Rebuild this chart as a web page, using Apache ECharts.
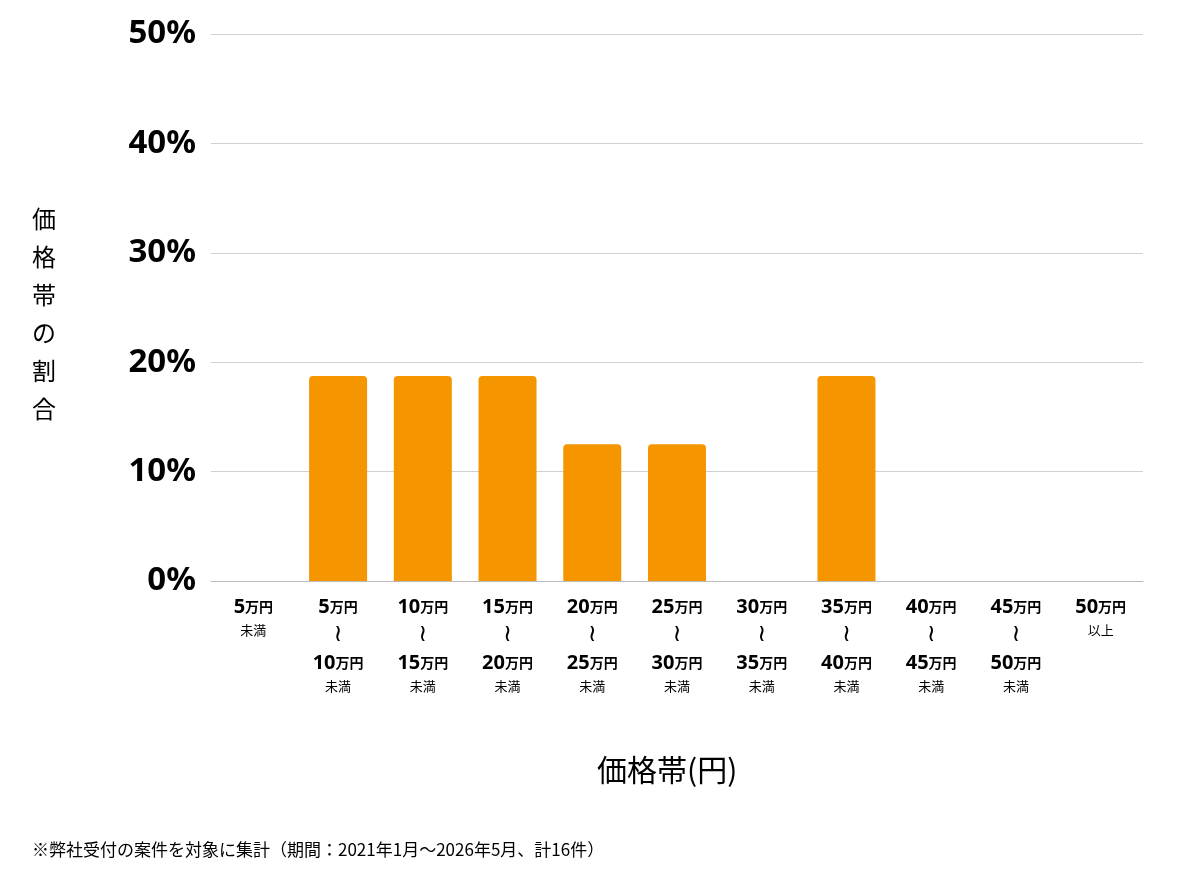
<!DOCTYPE html>
<html><head><meta charset="utf-8">
<script src="https://cdn.jsdelivr.net/npm/echarts@6/dist/echarts.min.js"></script>
<style>html,body{margin:0;padding:0;background:#fff}#c{width:1200px;height:874px}</style>
</head><body><div id="c"></div>
<script>
const lowNums = ['', '5', '10', '15', '20', '25', '30', '35', '40', '45', '50'];
const highNums = ['5', '10', '15', '20', '25', '30', '35', '40', '45', '50', ''];
const values = [0, 18.75, 18.75, 18.75, 12.5, 12.5, 0, 18.75, 0, 0, 0];
const yTicks = [0, 10, 20, 30, 40, 50];
const categories = lowNums.map((l, i) => i === 0 ? 'u' + i : (i === 10 ? 'o' + i : 'r' + i));

function fmt(v, idx) {
  if (idx === 0) return '{n|' + highNums[0] + '}{u|万円}\n{s|未満}';
  if (idx === 10) return '{n|' + lowNums[10] + '}{u|万円}\n{s|以上}';
  return '{n|' + lowNums[idx] + '}{u|万円}\n{w|≀}\n{n|' + highNums[idx] + '}{u|万円}\n{s|未満}';
}
const font = '"Noto Sans CJK JP","Noto Sans",sans-serif';
const chart = echarts.init(document.getElementById('c'));
chart.setOption({
  animation: false,
  textStyle: {fontFamily: font},
  grid: {left: 211, right: 57, top: 34, bottom: 293},
  xAxis: {
    type: 'category', data: categories,
    axisLine: {lineStyle: {color: '#bbb'}}, axisTick: {show: false},
    axisLabel: {
      interval: 0, margin: 12, formatter: fmt, verticalAlign: 'top',
      rich: {
        n: {fontSize: 20, fontWeight: 'bold', color: '#000', fontFamily: '"Noto Sans",sans-serif', lineHeight: 28},
        u: {fontSize: 14, fontWeight: 'bold', color: '#000', fontFamily: font, lineHeight: 28},
        s: {fontSize: 13, color: '#000', fontFamily: font, lineHeight: 18},
        w: {fontSize: 24, color: '#000', fontFamily: 'DejaVu Sans', lineHeight: 28}
      }
    }
  },
  yAxis: {
    type: 'value', min: 0, max: 50, interval: 10,
    axisLine: {show: false}, axisTick: {show: false},
    splitLine: {lineStyle: {color: '#d0d0d0'}},
    axisLabel: {formatter: v => v + '%', fontSize: 33, fontWeight: 'bold', color: '#000', margin: 15, fontFamily: '"Noto Sans",sans-serif'}
  },
  series: [{
    type: 'bar', data: values, barWidth: 58, itemStyle: {color: '#F59500', borderRadius: [4, 4, 0, 0]}
  }],
  graphic: [
    {type: 'text', left: 32, top: 200, style: {text: '価\n格\n帯\nの\n割\n合', fontSize: 24, lineHeight: 38, fill: '#000', fontFamily: font}},
    {type: 'text', left: 597, top: 755, style: {text: '価格帯(円)', fontSize: 30, fill: '#000', fontFamily: font}},
    {type: 'text', left: 32, top: 841, style: {text: '※弊社受付の案件を対象に集計（期間：2021年1月〜2026年5月、計16件）', fontSize: 17, fill: '#000', fontFamily: font}}
  ]
});
</script></body></html>
